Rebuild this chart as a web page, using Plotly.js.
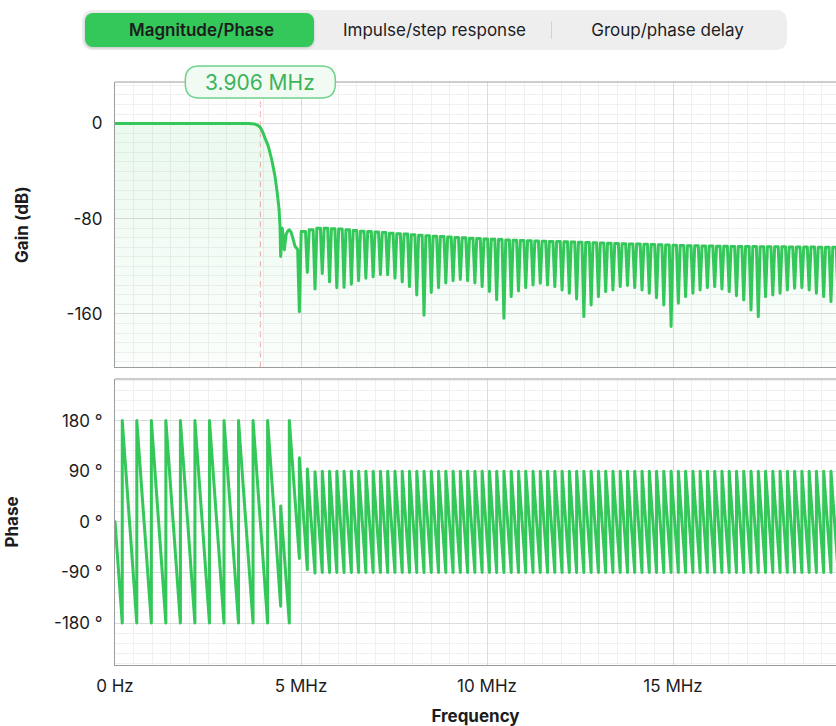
<!DOCTYPE html>
<html>
<head>
<meta charset="utf-8">
<script src="https://cdn.plot.ly/plotly-3.0.1.min.js"></script>
<style>
html,body{margin:0;padding:0;background:#fff;overflow:hidden;width:836px;height:726px;}
#chart{position:absolute;left:0;top:0;width:836px;height:726px;}
.js-line{stroke-linejoin:round;stroke-linecap:round;}
#seg{position:absolute;left:82px;top:10px;width:705px;height:40px;background:#eeeeef;border-radius:10px;z-index:10;font-family:Inter,"Open Sans",sans-serif;font-size:17px;color:#1c1c1e;}
#seg .act{position:absolute;left:3px;top:3px;width:229px;height:34px;background:#34c759;border-radius:8px;box-shadow:0 1px 3px rgba(0,0,0,0.18);}
#seg .lbl{position:absolute;top:0;height:40px;line-height:40px;text-align:center;width:233px;}
#seg .sep{position:absolute;left:469px;top:11px;width:1px;height:18px;background:#d2d2d6;}
</style>
</head>
<body>
<div id="chart"></div>
<div id="seg">
  <div class="act"></div>
  <div class="lbl" style="left:3px;font-weight:600;">Magnitude/Phase</div>
  <div class="lbl" style="left:236px;">Impulse/step response</div>
  <div class="sep"></div>
  <div class="lbl" style="left:469px;">Group/phase delay</div>
</div>
<script>
// ---------- data ----------
const cutoffMHz = 3.906;
const cutoffLabel = '3.906 MHz';

// passband + transition band of the gain curve (MHz, dB)
const gainEdgeMHz = [0, 3.60, 3.75, 3.85, 3.906, 3.97, 4.03, 4.12, 4.21, 4.30, 4.36, 4.41, 4.436, 4.453, 4.497, 4.551, 4.60, 4.65, 4.686, 4.73, 4.77, 4.839, 4.91];
const gainEdgeDb  = [0, 0, -0.3, -1.8, -3.4, -7, -12, -19, -30, -44, -58, -72, -86.5, -111.7, -87.9, -106, -93, -90, -89.3, -91, -95, -103, -106];

// stopband nulls (MHz) and their depths (dB)
const nullMHz = [
  4.955, 5.170, 5.376, 5.571, 5.767, 5.962, 6.157, 6.353, 6.548, 6.743,
  6.939, 7.134, 7.329, 7.525, 7.720, 7.915, 8.111, 8.306, 8.501, 8.696,
  8.892, 9.087, 9.282, 9.478, 9.673, 9.868, 10.064, 10.259, 10.454, 10.650,
  10.845, 11.040, 11.236, 11.431, 11.626, 11.822, 12.017, 12.212, 12.408, 12.603,
  12.798, 12.994, 13.189, 13.384, 13.580, 13.775, 13.970, 14.166, 14.361, 14.556,
  14.751, 14.947, 15.142, 15.337, 15.533, 15.728, 15.923, 16.119, 16.314, 16.509,
  16.705, 16.900, 17.095, 17.291, 17.486, 17.681, 17.877, 18.072, 18.267, 18.463,
  18.658, 18.853, 19.049, 19.244, 19.439];
const nullDb = [
  -158, -125, -139, -126, -133, -138, -137.6, -135, -132, -130,
  -128.8, -126.8, -127, -130, -133, -137, -144, -161, -142, -138,
  -134, -132, -131, -132, -134, -137, -141, -148, -163.6, -145.4,
  -140.6, -137.8, -135.6, -134.2, -135.6, -137, -139.8, -142.6, -147.4, -162.2,
  -152.4, -145.4, -141.2, -139.8, -137, -136.1, -137.8, -139.8, -142.6, -146.3,
  -152.4, -170.5, -151, -145.4, -142.6, -139.8, -137.8, -137, -139, -141.2,
  -144.6, -148.2, -156.6, -162.2, -145.4, -144, -142.6, -139.8, -138.4, -137.8,
  -139.8, -142.6, -145.4, -149.6, -155];
// lobe peak after each null (dB)
const peakDb = [
  -90.7, -89.3, -87.9, -87.9, -88.4, -88.7, -89.3, -89.8, -90.4, -90.7,
  -91.2, -91.5, -92.1, -92.6, -92.9, -93.5, -93.8, -94.3, -94.6, -94.9,
  -95.4, -95.7, -96.0, -96.3, -96.6, -96.9, -97.2, -97.5, -97.8, -98.0,
  -98.2, -98.4, -98.6, -98.8, -99.0, -99.2, -99.4, -99.6, -99.7, -99.9,
  -100.1, -100.3, -100.5, -100.7, -100.9, -101.1, -101.3, -101.5, -101.7, -101.9,
  -102.1, -102.3, -102.5, -102.6, -102.7, -102.8, -102.9, -103.0, -103.1, -103.2,
  -103.3, -103.3, -103.4, -103.5, -103.5, -103.6, -103.6, -103.7, -103.7, -103.8,
  -103.8, -103.9, -103.9, -104.0, -104.0];

// phase: passband wraps + transition (MHz, degrees)
const phaseEdgeMHz = [0, 0.195, 0.195, 0.586, 0.586, 0.977, 0.977, 1.367, 1.367, 1.758, 1.758,
  2.148, 2.148, 2.539, 2.539, 2.930, 2.930, 3.320, 3.320, 3.711, 3.711, 4.102, 4.102,
  4.453, 4.453, 4.686, 4.686];
const phaseEdgeDeg = [0, -180, 180, -180, 180, -180, 180, -180, 180, -180, 180,
  -180, 180, -180, 180, -180, 180, -180, 180, -180, 180, -180, 180,
  -150, 28, -180, 180];
// phase just before / after the jump at each stopband null (degrees)
const phaseLoDeg = [
  -65, -85, -91, -90, -90, -90, -90, -90, -90, -90,
  -90, -90, -90, -90, -90, -90, -90, -90, -90, -90,
  -90, -90, -90, -90, -90, -90, -90, -90, -90, -90,
  -90, -90, -90, -90, -90, -90, -90, -90, -90, -90,
  -90, -90, -90, -90, -90, -90, -90, -90, -90, -90,
  -90, -90, -90, -90, -90, -90, -90, -90, -90, -90,
  -90, -90, -90, -90, -90, -90, -90, -90, -90, -90,
  -90, -90, -90, -90, -90];
const phaseHiDeg = [
  114, 94, 89, 90, 90, 90, 90, 90, 90, 90,
  90, 90, 90, 90, 90, 90, 90, 90, 90, 90,
  90, 90, 90, 90, 90, 90, 90, 90, 90, 90,
  90, 90, 90, 90, 90, 90, 90, 90, 90, 90,
  90, 90, 90, 90, 90, 90, 90, 90, 90, 90,
  90, 90, 90, 90, 90, 90, 90, 90, 90, 90,
  90, 90, 90, 90, 90, 90, 90, 90, 90, 90,
  90, 90, 90, 90, 90];

const xTickVals = [0, 5, 10, 15];
const xTickText = ['0 Hz', '5 MHz', '10 MHz', '15 MHz'];
const gainTickVals = [0, -80, -160];
const gainTickText = ['0', '-80', '-160'];
const phaseTickVals = [180, 90, 0, -90, -180];
const phaseTickText = ['180 °', '90 °', '0 °', '-90 °', '-180 °'];

// ---------- build the polylines ----------
const spikeHalfWidth = 0.05; // drawing style: half-width of each null spike where it meets the lobe top
const gx = gainEdgeMHz.slice(), gy = gainEdgeDb.slice();
for (let k = 0; k < nullMHz.length; k++) {
  if (k > 0) { gx.push(nullMHz[k] - spikeHalfWidth); gy.push(peakDb[k - 1]); }
  gx.push(nullMHz[k]); gy.push(nullDb[k]);
  gx.push(nullMHz[k] + spikeHalfWidth); gy.push(peakDb[k]);
}
const px = phaseEdgeMHz.slice(), py = phaseEdgeDeg.slice();
for (let k = 0; k < nullMHz.length; k++) {
  px.push(nullMHz[k], nullMHz[k]);
  py.push(phaseLoDeg[k], phaseHiDeg[k]);
}

const GREEN = '#34c759';
const FONT = 'Inter, "Open Sans", sans-serif';
const xMax = 19.38;
const gainRange = [-204.8, 34.9];
const phaseRange = [-254.5, 254];
const gainDom = [0.5106, 1];
const phaseDom = [0, 0.4906];
const gridC = '#dcdcdc', minorC = '#f0f0f0', lineC = '#9c9c9c';

const traces = [
  {x: [0, xMax + 1], y: [gainRange[0], gainRange[0]], xaxis: 'x2', yaxis: 'y', mode: 'lines',
   line: {width: 0, color: 'rgba(0,0,0,0)'}, hoverinfo: 'skip', showlegend: false},
  {x: gx, y: gy, xaxis: 'x2', yaxis: 'y', mode: 'lines', fill: 'tonexty',
   fillgradient: {type: 'vertical', start: gainRange[0], stop: 0,
     colorscale: [[0, 'rgba(52,199,89,0.02)'], [1, 'rgba(52,199,89,0.10)']]},
   line: {color: GREEN, width: 3, simplify: false}, showlegend: false},
  {x: px, y: py, xaxis: 'x', yaxis: 'y2', mode: 'lines', fill: 'tozeroy',
   fillcolor: 'rgba(52,199,89,0.07)',
   line: {color: GREEN, width: 3, simplify: false}, showlegend: false}
];

const commonX = {
  range: [0, xMax], tickmode: 'array', tickvals: xTickVals, ticktext: xTickText,
  showgrid: true, gridcolor: gridC, gridwidth: 1, zeroline: false,
  minor: {dtick: 0.5, tick0: 0, showgrid: true, gridcolor: minorC, gridwidth: 1},
  showline: true, linecolor: lineC, linewidth: 1, ticks: '', fixedrange: true
};

const layout = {
  width: 836, height: 726,
  margin: {l: 115, r: 0, t: 82, b: 61},
  paper_bgcolor: '#ffffff', plot_bgcolor: '#ffffff',
  font: {family: FONT, size: 17, color: '#1c1c1e'},
  showlegend: false, hovermode: false,
  xaxis: Object.assign({}, commonX, {
    anchor: 'y2', domain: [0, 1], ticklabelstandoff: 6,
    tickfont: {size: 17, color: '#1c1c1e'},
    title: {text: 'Frequency', font: {size: 17, weight: 'bold', color: '#1c1c1e'}, standoff: 14}
  }),
  xaxis2: Object.assign({}, commonX, {anchor: 'y', domain: [0, 1], showticklabels: false}),
  yaxis: {
    anchor: 'x2', domain: gainDom, range: gainRange, tickmode: 'array',
    tickvals: gainTickVals, ticktext: gainTickText, showgrid: true, gridcolor: gridC,
    zeroline: false, minor: {dtick: 8, tick0: 0, showgrid: true, gridcolor: minorC},
    showline: true, linecolor: lineC, ticks: '', ticklabelstandoff: 8,
    tickfont: {size: 17, color: '#1c1c1e'}, fixedrange: true,
    title: {text: 'Gain (dB)', font: {size: 17, weight: 'bold', color: '#1c1c1e'}, standoff: 33}
  },
  yaxis2: {
    anchor: 'x', domain: phaseDom, range: phaseRange, tickmode: 'array',
    tickvals: phaseTickVals, ticktext: phaseTickText, showgrid: true, gridcolor: gridC,
    zeroline: false, minor: {dtick: 18, tick0: 0, showgrid: true, gridcolor: minorC},
    showline: true, linecolor: lineC, ticks: '', ticklabelstandoff: 8,
    tickfont: {size: 17, color: '#1c1c1e'}, fixedrange: true,
    title: {text: 'Phase', font: {size: 17, weight: 'bold', color: '#1c1c1e'}, standoff: 31}
  },
  shapes: [
    {type: 'line', xref: 'paper', yref: 'paper', x0: 0, x1: 1, y0: gainDom[1], y1: gainDom[1],
     line: {color: lineC, width: 1}},
    {type: 'line', xref: 'paper', yref: 'paper', x0: 0, x1: 1, y0: phaseDom[1], y1: phaseDom[1],
     line: {color: lineC, width: 1}},
    {type: 'line', xref: 'x2', yref: 'y domain', x0: cutoffMHz, x1: cutoffMHz, y0: 0, y1: 1,
     line: {color: '#f4a3a3', width: 1, dash: '6px,4px'}, layer: 'below'},
    {type: 'path', xref: 'x2', yref: 'y domain', xsizemode: 'pixel', ysizemode: 'pixel',
     xanchor: cutoffMHz, yanchor: 1,
     path: 'M -61,-16 L 61,-16 Q 75,-16 75,-2 L 75,2 Q 75,16 61,16 L -61,16 Q -75,16 -75,2 L -75,-2 Q -75,-16 -61,-16 Z',
     fillcolor: '#f1fbf3', line: {color: '#6fd28a', width: 1.5}, layer: 'above'}
  ],
  annotations: [
    {x: cutoffMHz, xref: 'x2', y: 1, yref: 'y domain', text: cutoffLabel, showarrow: false,
     xanchor: 'center', yanchor: 'middle', font: {family: FONT, size: 21, color: '#3cb45c'}}
  ]
};

Plotly.newPlot('chart', traces, layout, {staticPlot: true, displayModeBar: false});
</script>
</body>
</html>
